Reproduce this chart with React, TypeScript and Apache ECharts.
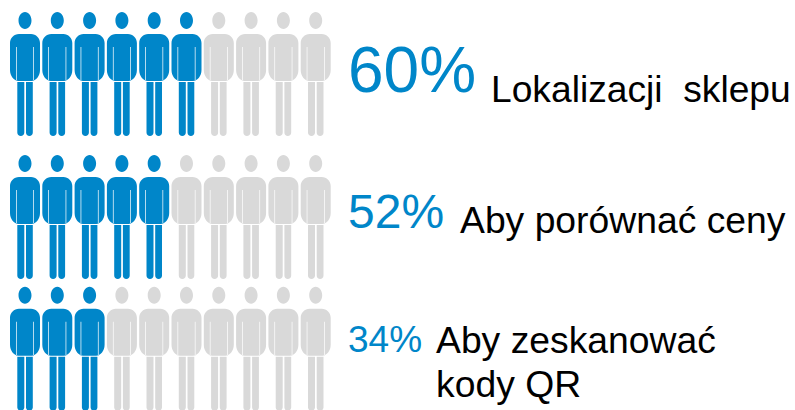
import React, { useEffect, useRef } from "react";
import * as echarts from "echarts";

const rowLabels = ["Lokalizacji  sklepu", "Aby porównać ceny", "Aby zeskanować\nkody QR"];
const percents = [60, 52, 34];
const filledIcons = [6, 5, 3];
const totalIcons = 10;

const BLUE = "#0086C9";
const GRAY = "#D9D9D9";
const FONT = '"Liberation Sans", Arial, sans-serif';

const personPath =
  "path://M8.5 8.5C8.5 3.8 11.4 0 15 0C18.6 0 21.5 3.8 21.5 8.5C21.5 13.2 18.6 17 15 17C11.4 17 8.5 13.2 8.5 8.5Z" +
  "M9 22L21 22C26 22 30 26 30 31L30 58C30 64 26 69 21.5 69L24 69L24 35L23.3 35L23.3 69L6.7 69L6.7 35L6 35L6 69L8.5 69C4 69 0 64 0 58L0 31C0 26 4 22 9 22Z" +
  "M7.3 70L14.3 70L14.3 120.5C14.3 122.5 12.7 124 10.8 124C8.9 124 7.3 122.5 7.3 120.5Z" +
  "M16 70L22.8 70L22.8 120.5C22.8 122.5 21.3 124 19.4 124C17.5 124 16 122.5 16 120.5Z";

const rowTops = [12, 155, 287.5];
const iconSize = [30, 124];

export default function App() {
  const ref = useRef<HTMLDivElement>(null);
  useEffect(() => {
    const chart = echarts.init(ref.current!, undefined, { renderer: "svg" });
    const grid = rowTops.map((top) => ({ left: 8.85, top, width: 323, height: 124 }));
    const xAxis = rowTops.map((_, i) => ({ type: "value", gridIndex: i, min: 0, max: totalIcons, show: false }));
    const yAxis = rowTops.map((_, i) => ({ type: "category", gridIndex: i, data: [rowLabels[i]], show: false }));
    const series: any[] = [];
    rowTops.forEach((_, i) => {
      const icons = Array.from({ length: totalIcons }, (_, k) => k);
      const base = {
        type: "scatter",
        xAxisIndex: i,
        yAxisIndex: i,
        symbol: personPath,
        symbolSize: iconSize,
        silent: true,
        clip: false,
      };
      series.push({
        ...base,
        name: rowLabels[i],
        itemStyle: { color: BLUE, opacity: 1 },
        data: icons.filter((k) => k < filledIcons[i]).map((k) => [k + 0.5, 0]),
      });
      series.push({
        ...base,
        name: "rest",
        itemStyle: { color: GRAY, opacity: 1 },
        data: icons.filter((k) => k >= filledIcons[i]).map((k) => [k + 0.5, 0]),
      });
    });
    const pct = (i: number, x: number, y: number, size: number) => ({
      type: "text",
      x,
      y,
      style: { text: `${percents[i]}%`, fill: BLUE, font: `${size}px ${FONT}`, textVerticalAlign: "bottom" },
    });
    const lab = (text: string, x: number, y: number, size: number) => ({
      type: "text",
      x,
      y,
      style: { text, fill: "#000", font: `${size}px ${FONT}`, textVerticalAlign: "bottom" },
    });
    const [l2a, l2b] = rowLabels[2].split("\n");
    chart.setOption({
      animation: false,
      backgroundColor: "#fff",
      grid,
      xAxis,
      yAxis,
      series,
      graphic: [
        pct(0, 348, 102, 64),
        lab(rowLabels[0], 491, 107, 37.2),
        pct(1, 348, 235, 48),
        lab(rowLabels[1], 460, 238, 37.3),
        pct(2, 348, 358, 37),
        lab(l2a, 436, 358, 37.3),
        lab(l2b, 436, 402, 37.3),
      ],
    });
    return () => chart.dispose();
  }, []);
  return <div ref={ref} style={{ position: "fixed", left: 0, top: 0, width: 795, height: 410 }} />;
}
